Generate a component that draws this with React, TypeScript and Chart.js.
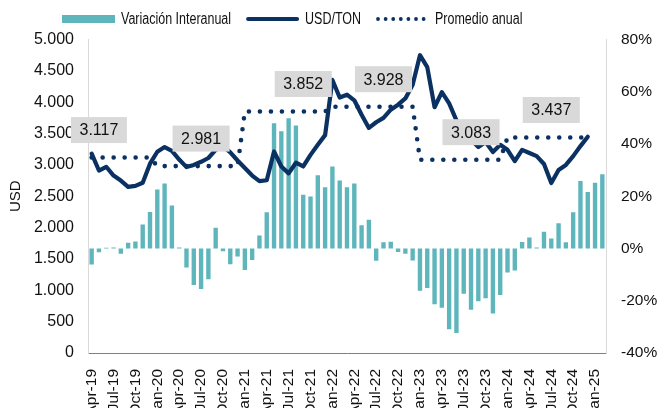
import React, { useEffect, useRef } from 'react';
import { Chart, registerables } from 'chart.js';

Chart.register(...registerables);

// ---------- DATA ----------
const months: string[] = [
  'Apr-19', 'May-19', 'Jun-19', 'Jul-19', 'Aug-19', 'Sep-19', 'Oct-19', 'Nov-19', 'Dec-19',
  'Jan-20', 'Feb-20', 'Mar-20', 'Apr-20', 'May-20', 'Jun-20', 'Jul-20', 'Aug-20', 'Sep-20', 'Oct-20', 'Nov-20', 'Dec-20',
  'Jan-21', 'Feb-21', 'Mar-21', 'Apr-21', 'May-21', 'Jun-21', 'Jul-21', 'Aug-21', 'Sep-21', 'Oct-21', 'Nov-21', 'Dec-21',
  'Jan-22', 'Feb-22', 'Mar-22', 'Apr-22', 'May-22', 'Jun-22', 'Jul-22', 'Aug-22', 'Sep-22', 'Oct-22', 'Nov-22', 'Dec-22',
  'Jan-23', 'Feb-23', 'Mar-23', 'Apr-23', 'May-23', 'Jun-23', 'Jul-23', 'Aug-23', 'Sep-23', 'Oct-23', 'Nov-23', 'Dec-23',
  'Jan-24', 'Feb-24', 'Mar-24', 'Apr-24', 'May-24', 'Jun-24', 'Jul-24', 'Aug-24', 'Sep-24', 'Oct-24', 'Nov-24', 'Dec-24',
  'Jan-25', 'Feb-25',
];

// Variación Interanual (%), right axis
const variacion: number[] = [
  -6.1, -1.4, 0.3, 0.4, -2.0, 2.2, 2.7, 9.2, 14.0,
  22.6, 24.9, 16.5, 0.4, -7.3, -14.0, -15.5, -11.8, 7.9, -1.1, -6.0, -3.1,
  -8.2, -4.4, 5.0, 13.9, 47.9, 44.9, 49.9, 47.1, 20.6, 19.9, 28.0, 23.4,
  31.4, 26.0, 23.4, 24.9, 8.9, 11.0, -4.7, 2.4, 2.6, -1.3, -2.0, -4.6,
  -16.2, -15.1, -21.3, -22.7, -30.9, -32.3, -17.3, -23.4, -20.2, -19.0, -24.9, -17.8,
  -9.2, -8.4, 2.5, 4.2, 0.4, 6.4, 3.8, 9.7, 2.4, 13.9, 25.8, 21.6,
  25.2, 28.4,
];

// USD/TON, left axis (Apr-19 .. Dec-24)
const usdTon: number[] = [
  3180, 2910, 2970, 2830, 2750, 2650, 2665, 2715, 3020,
  3210, 3285, 3225, 3085, 2965, 3000, 3050, 3110, 3240, 3300, 3200, 3070,
  2950, 2830, 2740, 2755, 3215, 2975, 2865, 3035, 2975, 3160, 3320, 3475,
  4355, 4075, 4120, 4030, 3800, 3590, 3680, 3750, 3880, 3960, 4060, 4280,
  4750, 4560, 3920, 4160, 3980, 3710, 3560, 3400, 3285, 3365, 3205, 3320,
  3240, 3060, 3240, 3190, 3140, 3015, 2710, 2920, 3000, 3140, 3300, 3450,
];

// Promedio anual by year
const years: string[] = ['19', '20', '21', '22', '23', '24'];
const yearAvg: number[] = [3117, 2981, 3852, 3928, 3083, 3437];

// months that carry the average's data label
const labelMonths: string[] = ['May-19', 'Jul-20', 'Sep-21', 'Aug-22', 'Aug-23', 'Jul-24'];

const leftMin = 0;
const leftMax = 5000;
const leftStep = 500;
const rightMin = -40;
const rightMax = 80;
const rightStep = 20;

// ---------- STYLE ----------
const TEAL = '#5eb6bc';
const NAVY = '#0a3161';
const FONT = '"Liberation Sans", Arial, Helvetica, sans-serif';

const avgSeries: (number | null)[] = months.map((m, i) => {
  if (i >= usdTon.length) return null;
  const yi = years.indexOf(m.slice(-2));
  return yi >= 0 ? yearAvg[yi] : null;
});

const fmt = (v: number) => String(Math.round(v)).replace(/\B(?=(\d{3})+(?!\d))/g, '.');

const avgLabelPlugin = {
  id: 'avgLabels',
  afterDatasetsDraw(chart: any) {
    const meta = chart.getDatasetMeta(2);
    const ctx = chart.ctx as CanvasRenderingContext2D;
    ctx.save();
    ctx.font = `16px ${FONT}`;
    ctx.textAlign = 'center';
    ctx.textBaseline = 'middle';
    labelMonths.forEach((m) => {
      const i = months.indexOf(m);
      const pt = meta.data[i];
      const val = avgSeries[i];
      if (!pt || val == null) return;
      const txt = fmt(val);
      const w = ctx.measureText(txt).width + 17;
      const h = 26;
      const cx = pt.x;
      const cy = pt.y - 27.5;
      ctx.fillStyle = '#d9d9d9';
      ctx.fillRect(cx - w / 2, cy - h / 2, w, h);
      ctx.fillStyle = '#111';
      ctx.fillText(txt, cx, cy + 1);
    });
    ctx.restore();
  },
};

const legendPlugin = {
  id: 'customLegend',
  afterDraw(chart: any) {
    const ctx = chart.ctx as CanvasRenderingContext2D;
    const ds = chart.data.datasets;
    const cy = 19;
    const sw = 53;
    const squeeze = 0.78;
    let x = 62;
    ctx.save();
    ctx.font = `16px ${FONT}`;
    ctx.textBaseline = 'middle';
    ctx.textAlign = 'left';
    ds.forEach((d: any, k: number) => {
      if (k === 0) {
        ctx.fillStyle = d.backgroundColor;
        ctx.fillRect(x, cy - 4, sw, 8);
      } else if (k === 1) {
        ctx.strokeStyle = d.borderColor;
        ctx.lineWidth = 4;
        ctx.lineCap = 'round';
        ctx.setLineDash([]);
        ctx.beginPath();
        ctx.moveTo(x + 2, cy);
        ctx.lineTo(x + sw - 2, cy);
        ctx.stroke();
      } else {
        ctx.strokeStyle = d.borderColor;
        ctx.lineWidth = 3.8;
        ctx.lineCap = 'round';
        ctx.setLineDash([0, 7.6]);
        ctx.beginPath();
        ctx.moveTo(x + 2, cy);
        ctx.lineTo(x + sw, cy);
        ctx.stroke();
        ctx.setLineDash([]);
      }
      x += sw + 6;
      const tw = ctx.measureText(d.label).width * squeeze;
      ctx.save();
      ctx.translate(x, cy + 0.5);
      ctx.scale(squeeze, 1);
      ctx.fillStyle = '#111';
      ctx.fillText(d.label, 0, 0);
      ctx.restore();
      x += tw + 15;
    });
    ctx.restore();
  },
};

export default function App() {
  const ref = useRef<HTMLCanvasElement | null>(null);

  useEffect(() => {
    if (!ref.current) return;
    const chart = new Chart(ref.current, {
      type: 'bar',
      data: {
        labels: months,
        datasets: [
          {
            type: 'bar',
            label: 'Variación Interanual',
            data: variacion,
            yAxisID: 'y1',
            backgroundColor: TEAL,
            barPercentage: 0.6,
            categoryPercentage: 1,
            order: 3,
          },
          {
            type: 'line',
            label: 'USD/TON',
            data: usdTon,
            yAxisID: 'y',
            borderColor: NAVY,
            backgroundColor: NAVY,
            borderWidth: 4.2,
            pointRadius: 0,
            tension: 0,
            borderJoinStyle: 'round',
            borderCapStyle: 'round',
            order: 2,
          },
          {
            type: 'line',
            label: 'Promedio anual',
            data: avgSeries,
            yAxisID: 'y',
            borderColor: NAVY,
            backgroundColor: NAVY,
            borderWidth: 4.6,
            borderDash: [0, 11],
            borderCapStyle: 'round',
            pointRadius: 0,
            tension: 0,
            spanGaps: false,
            order: 1,
          },
        ] as any,
      },
      options: {
        responsive: false,
        animation: false,
        events: [],
        layout: { padding: { top: 39.5, left: 0, right: 0, bottom: 0 } },
        plugins: {
          legend: { display: false },
          tooltip: { enabled: false },
        },
        scales: {
          x: {
            offset: true,
            grid: { display: false },
            border: { display: true, color: '#7f7f7f', width: 1 },
            ticks: {
              autoSkip: false,
              maxRotation: 90,
              minRotation: 90,
              padding: 8,
              color: '#111',
              font: { family: FONT, size: 15.5 },
              callback: (_v: any, i: number) => (i % 3 === 0 ? months[i] : ''),
            },
            afterFit: (s: any) => {
              s.height = 55;
            },
          },
          y: {
            position: 'left',
            min: leftMin,
            max: leftMax,
            grid: { display: false },
            border: { display: true, color: '#d9d9d9', width: 1 },
            ticks: {
              stepSize: leftStep,
              padding: 6,
              color: '#111',
              font: { family: FONT, size: 16 },
              callback: (v: any) => fmt(Number(v)),
            },
            title: {
              display: true,
              text: 'USD',
              color: '#111',
              font: { family: FONT, size: 15 },
              padding: { top: 7, bottom: 0 },
            },
            afterFit: (s: any) => {
              s.width = 88;
            },
          },
          y1: {
            position: 'right',
            min: rightMin,
            max: rightMax,
            grid: { display: false },
            border: { display: true, color: '#d9d9d9', width: 1 },
            ticks: {
              stepSize: rightStep,
              padding: 7,
              color: '#111',
              font: { family: FONT, size: 15.5 },
              callback: (v: any) => `${v}%`,
            },
            afterFit: (s: any) => {
              s.width = 64;
            },
          },
        },
      } as any,
      plugins: [avgLabelPlugin, legendPlugin],
    });
    return () => chart.destroy();
  }, []);

  return (
    <div style={{ position: 'absolute', left: 0, top: 0, width: 670, height: 408, overflow: 'hidden', background: '#fff' }}>
      <canvas ref={ref} width={670} height={408} style={{ display: 'block' }} />
    </div>
  );
}
